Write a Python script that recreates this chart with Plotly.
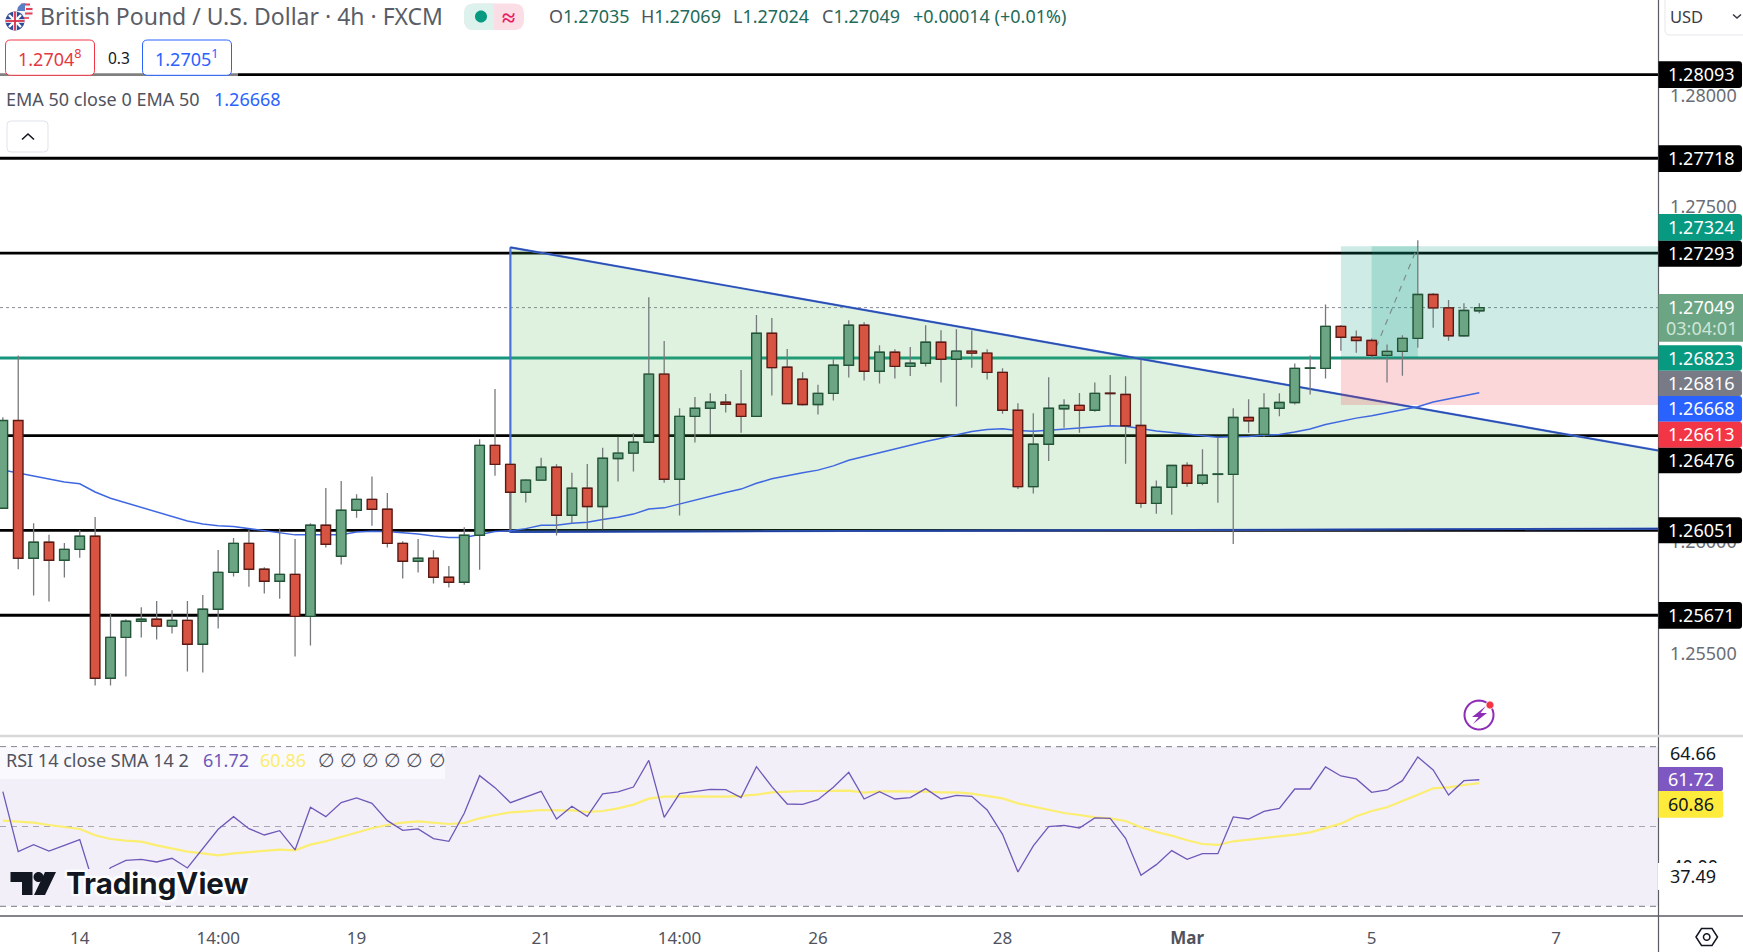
import math
import plotly.graph_objects as go

W, H = 1743, 952
FONT = "Noto Sans"

# ---------- data ----------
opens = [1.26150,1.26543,1.25926,1.25998,1.25917,1.25966,1.26025,1.25389,1.25572,1.25644,
1.25653,1.25622,1.25648,1.25541,1.25698,1.25863,1.25993,1.25877,1.25823,1.25854,
1.25666,1.26074,1.25935,1.26141,1.26190,1.26146,1.25993,1.25913,1.25926,1.25841,
1.25819,1.26029,1.26432,1.26347,1.26222,1.26276,1.26334,1.26119,1.26240,1.26158,
1.26373,1.26397,1.26446,1.26751,1.26280,1.26562,1.26598,1.26625,1.26616,1.26562,
1.26934,1.26782,1.26728,1.26615,1.26665,1.26791,1.26970,1.26764,1.26849,1.26786,
1.26800,1.26894,1.26818,1.26854,1.26845,1.26759,1.26589,1.26247,1.26437,1.26596,
1.26611,1.26589,1.26665,1.26660,1.26521,1.26172,1.26244,1.26342,1.26262,1.26302,
1.26302,1.26557,1.26481,1.26598,1.26624,1.26777,1.26777,1.26965,1.26916,1.26902,
1.26835,1.26853,1.26911,1.27108,1.27048,1.26923,1.27035]
highs = [1.26558,1.26835,1.26083,1.26031,1.25995,1.26053,1.26111,1.25680,1.25653,1.25707,
1.25735,1.25693,1.25735,1.25762,1.25963,1.26017,1.26053,1.25886,1.26060,1.26013,
1.26083,1.26241,1.26272,1.26213,1.26293,1.26219,1.26002,1.26013,1.25962,1.25892,
1.26065,1.26459,1.26684,1.26347,1.26280,1.26376,1.26347,1.26309,1.26349,1.26421,
1.26471,1.26486,1.27095,1.26900,1.26598,1.26649,1.26665,1.26662,1.26770,1.27016,
1.27003,1.26864,1.26760,1.26703,1.26818,1.26992,1.26983,1.26880,1.26862,1.26873,
1.26970,1.26948,1.26952,1.26946,1.26862,1.26777,1.26621,1.26576,1.26737,1.26639,
1.26666,1.26714,1.26747,1.26742,1.26814,1.26275,1.26342,1.26356,1.26415,1.26471,
1.26598,1.26639,1.26665,1.26665,1.26799,1.26835,1.27063,1.26971,1.26947,1.26911,
1.26884,1.26925,1.27351,1.27114,1.27083,1.27068,1.27069]
lows = [1.26150,1.25877,1.25759,1.25732,1.25840,1.25929,1.25356,1.25356,1.25396,1.25571,
1.25562,1.25589,1.25419,1.25414,1.25611,1.25844,1.25799,1.25768,1.25745,1.25486,
1.25535,1.25974,1.25898,1.26108,1.26072,1.25974,1.25835,1.25862,1.25813,1.25795,
1.25808,1.25875,1.26296,1.26053,1.26176,1.26276,1.26028,1.26083,1.26056,1.26056,
1.26270,1.26315,1.26446,1.26265,1.26118,1.26445,1.26483,1.26579,1.26489,1.26562,
1.26655,1.26619,1.26609,1.26570,1.26633,1.26736,1.26722,1.26709,1.26731,1.26743,
1.26785,1.26713,1.26606,1.26780,1.26727,1.26574,1.26237,1.26216,1.26362,1.26511,
1.26489,1.26583,1.26523,1.26350,1.26153,1.26126,1.26121,1.26247,1.26253,1.26175,
1.25990,1.26489,1.26471,1.26562,1.26615,1.26660,1.26732,1.26856,1.26847,1.26821,
1.26713,1.26744,1.26869,1.26959,1.26901,1.26919,1.27024]
closes = [1.26543,1.25926,1.25998,1.25917,1.25966,1.26025,1.25389,1.25572,1.25644,1.25653,
1.25622,1.25648,1.25541,1.25698,1.25863,1.25993,1.25877,1.25823,1.25854,1.25666,
1.26074,1.25989,1.26141,1.26190,1.26146,1.25993,1.25913,1.25926,1.25841,1.25819,
1.26029,1.26432,1.26347,1.26222,1.26276,1.26334,1.26119,1.26240,1.26158,1.26374,
1.26397,1.26446,1.26751,1.26280,1.26562,1.26598,1.26625,1.26616,1.26562,1.26934,
1.26780,1.26619,1.26615,1.26665,1.26791,1.26970,1.26764,1.26849,1.26786,1.26800,
1.26894,1.26818,1.26854,1.26845,1.26759,1.26589,1.26247,1.26437,1.26598,1.26611,
1.26589,1.26665,1.26664,1.26520,1.26172,1.26244,1.26342,1.26262,1.26298,1.26303,
1.26557,1.26542,1.26598,1.26624,1.26777,1.26778,1.26965,1.26916,1.26902,1.26835,
1.26853,1.26911,1.27108,1.27048,1.26923,1.27036,1.27049]
ema50 = [1.26322,1.26307,1.26295,1.26281,1.26268,1.26260,1.26223,1.26195,1.26174,1.26156,
1.26134,1.26114,1.26093,1.26080,1.26072,1.26068,1.26059,1.26050,1.26042,1.26031,
1.26031,1.26031,1.26032,1.26044,1.26047,1.26046,1.26041,1.26035,1.26026,1.26019,
1.26019,1.26031,1.26046,1.26050,1.26059,1.26074,1.26074,1.26083,1.26088,1.26100,
1.26110,1.26124,1.26147,1.26152,1.26170,1.26188,1.26206,1.26221,1.26236,1.26262,
1.26282,1.26297,1.26309,1.26321,1.26340,1.26365,1.26382,1.26400,1.26416,1.26433,
1.26449,1.26464,1.26479,1.26494,1.26503,1.26506,1.26498,1.26495,1.26500,1.26505,
1.26511,1.26515,1.26520,1.26518,1.26508,1.26496,1.26490,1.26483,1.26474,1.26468,
1.26471,1.26472,1.26477,1.26481,1.26492,1.26505,1.26525,1.26541,1.26554,1.26565,
1.26578,1.26590,1.26605,1.26626,1.26639,1.26654,1.26668]
rsi = [58.73,43.70,45.45,43.86,45.28,46.70,34.26,39.69,41.53,41.78,
41.11,42.03,39.60,44.37,49.29,52.47,49.46,47.87,48.96,44.12,
54.81,52.47,55.98,57.15,55.81,51.47,49.04,49.38,46.96,46.29,
53.30,62.74,59.74,55.98,57.40,58.82,51.88,55.06,52.55,58.15,
58.65,59.90,66.59,52.30,58.23,58.82,59.32,59.24,57.23,65.00,
59.99,55.64,55.56,56.73,59.82,63.58,56.90,58.74,56.90,57.23,
59.49,56.90,57.82,57.57,54.14,48.04,38.60,45.12,49.96,50.30,
49.63,52.14,52.05,47.04,37.77,40.44,43.95,41.78,43.20,43.20,
52.39,51.88,53.81,54.56,59.40,59.40,64.92,62.66,61.91,58.57,
59.15,61.49,67.42,64.17,57.90,61.49,61.72]
rsi_sma = [51.47,51.22,50.97,50.38,49.88,49.38,47.79,46.87,46.45,46.20,
45.28,44.45,43.70,43.28,42.78,43.28,43.61,43.95,44.20,44.03,
45.45,46.29,47.37,48.63,49.55,50.38,50.97,51.30,51.05,50.63,
50.88,52.05,52.89,53.56,53.81,54.14,54.06,54.06,53.64,53.89,
54.56,55.48,56.98,57.48,57.57,57.48,57.40,57.48,57.65,57.98,
58.57,58.82,58.90,58.90,58.99,58.99,58.48,58.82,58.82,58.82,
58.74,58.57,58.57,58.23,57.73,57.06,55.81,54.98,54.22,53.39,
52.89,52.30,52.05,51.38,49.80,48.63,47.71,46.54,45.62,45.37,
46.29,46.71,47.04,47.37,47.96,48.54,49.55,50.71,52.55,53.89,
54.81,56.31,57.98,59.57,59.82,60.40,60.86]
black_levels = [1.28093,1.27718,1.27293,1.26476,1.26051,1.25671]
green_level = 1.26823
last_price = 1.27049
entry = 1.26823
target = 1.27324
stop = 1.26613
wedge_x = [33, 108, 108, 33]
wedge_y = [1.27319, 1.26404, 1.26059, 1.26044]
box_x = [87, 108, 108, 87]
hit_x = [89, 92, 92, 89]
rsi_bands = [70, 50, 30]
price_ticks = [1.28, 1.275, 1.26, 1.255]
price_tick_text = ["1.28000", "1.27500", "1.26000", "1.25500"]
time_ticks = [5, 14, 23, 35, 44, 53, 65, 77, 89, 101]
time_tick_text = ["14", "14:00", "19", "21", "14:00", "26", "28", "<b>Mar</b>", "5", "7"]
x_idx = list(range(len(closes)))

# ---------- page geometry ----------
PX_R = 1658.5
PX_MAIN = 736
PX_RSI = 916
X_RANGE = [-0.185, 107.65]
Y_RANGE = [1.25130, 1.28427]
R_RANGE = [27.57, 72.68]

def fx(x): return x / W
def fy(y): return 1 - y / H

def rr(x0, y0, x1, y1, r=3, rl=None):
    rl = r if rl is None else rl
    return (f"M{fx(x0+rl)},{fy(y0)} L{fx(x1-r)},{fy(y0)} Q{fx(x1)},{fy(y0)} {fx(x1)},{fy(y0+r)} "
            f"L{fx(x1)},{fy(y1-r)} Q{fx(x1)},{fy(y1)} {fx(x1-r)},{fy(y1)} L{fx(x0+rl)},{fy(y1)} "
            f"Q{fx(x0)},{fy(y1)} {fx(x0)},{fy(y1-rl)} L{fx(x0)},{fy(y0+rl)} Q{fx(x0)},{fy(y0)} {fx(x0+rl)},{fy(y0)} Z")

def poly(pts, close=True):
    s = "M" + " L".join(f"{fx(a)},{fy(b)}" for a, b in pts)
    return s + (" Z" if close else "")

def circ(cx, cy, r):
    return poly([(cx + r * math.cos(2 * math.pi * k / 40), cy + r * math.sin(2 * math.pi * k / 40)) for k in range(40)])

shapes, annos = [], []

def pshape(path, fill="rgba(0,0,0,0)", line=None, lw=0, layer="above"):
    shapes.append(dict(type="path", xref="paper", yref="paper", path=path, fillcolor=fill,
                       line=dict(color=line or "rgba(0,0,0,0)", width=lw), layer=layer))

def text(x, y, s, size=18, color="#50535E", anchor="left", weight=None, shadow=None, family=FONT):
    f = dict(size=size, color=color, family=family)
    if weight: f["weight"] = weight
    if shadow: f["shadow"] = shadow
    annos.append(dict(xref="paper", yref="paper", x=fx(x), y=fy(y), text=s, showarrow=False,
                      xanchor=anchor, yanchor="middle", font=f, borderpad=0, borderwidth=0))

# ---------- level lines (under the wedge fill) ----------
for lv in black_levels:
    shapes.append(dict(type="line", xref="x", yref="y", x0=X_RANGE[0], x1=X_RANGE[1], y0=lv, y1=lv,
                       line=dict(color="#000000", width=2.8), layer="below"))
shapes.append(dict(type="line", xref="x", yref="y", x0=X_RANGE[0], x1=X_RANGE[1], y0=green_level, y1=green_level,
                   line=dict(color="#17967F", width=3), layer="below"))
shapes.append(dict(type="line", xref="x", yref="y", x0=X_RANGE[0], x1=X_RANGE[1], y0=last_price, y1=last_price,
                   line=dict(color="#8A8D96", width=1, dash="dot"), layer="below"))
# RSI band
shapes.append(dict(type="rect", xref="x2", yref="y2", x0=X_RANGE[0], x1=X_RANGE[1], y0=rsi_bands[2], y1=rsi_bands[0],
                   fillcolor="#F2EFF9", line=dict(width=0), layer="below"))
for b, c in zip(rsi_bands, ["#787B86", "#A9A6B4", "#787B86"]):
    shapes.append(dict(type="line", xref="x2", yref="y2", x0=X_RANGE[0], x1=X_RANGE[1], y0=b, y1=b,
                       line=dict(color=c, width=1, dash="6px,5px"), layer="below"))

# ---------- traces ----------
fig = go.Figure()
BLUE = "#4A72DA"
fig.add_trace(go.Scatter(x=wedge_x + wedge_x[:1], y=wedge_y + wedge_y[:1], mode="lines", fill="toself",
                         fillcolor="rgba(76,175,80,0.18)", line=dict(color=BLUE, width=2.2),
                         hoverinfo="skip", showlegend=False))
fig.add_trace(go.Scatter(x=wedge_x[:2], y=wedge_y[:2], mode="lines", line=dict(color="#2A4CA8", width=1.2),
                         hoverinfo="skip", showlegend=False))
fig.add_trace(go.Scatter(x=wedge_x[2:], y=wedge_y[2:], mode="lines", line=dict(color="#1F3F9A", width=1.4),
                         hoverinfo="skip", showlegend=False))
fig.add_trace(go.Scatter(x=box_x + box_x[:1], y=[target, target, entry, entry, target], mode="lines", fill="toself",
                         fillcolor="rgba(8,153,129,0.20)", line=dict(width=0), hoverinfo="skip", showlegend=False))
fig.add_trace(go.Scatter(x=box_x + box_x[:1], y=[entry, entry, stop, stop, entry], mode="lines", fill="toself",
                         fillcolor="rgba(242,54,69,0.20)", line=dict(width=0), hoverinfo="skip", showlegend=False))
fig.add_trace(go.Scatter(x=hit_x + hit_x[:1], y=[target, target, entry, entry, target], mode="lines", fill="toself",
                         fillcolor="rgba(8,153,129,0.20)", line=dict(width=0), hoverinfo="skip", showlegend=False))
fig.add_trace(go.Scatter(x=hit_x[:1] + hit_x[1:2], y=[entry, target], mode="lines",
                         line=dict(color="#7E8C8A", width=1.2, dash="6px,6px"), hoverinfo="skip", showlegend=False))
fig.add_trace(go.Scatter(x=x_idx, y=ema50, mode="lines", line=dict(color="#3F68E0", width=1.5),
                         hoverinfo="skip", showlegend=False))
# wicks come from the candlestick on one overlaying axis, wide bodies from bars on a later one
fig.add_trace(go.Candlestick(x=x_idx, open=opens, high=highs, low=lows, close=closes, yaxis="y3",
                             increasing=dict(line=dict(color="#777A7C", width=1.3), fillcolor="#6BA583"),
                             decreasing=dict(line=dict(color="#777A7C", width=1.3), fillcolor="#D75442"),
                             whiskerwidth=0, hoverinfo="skip", showlegend=False))
body_lo = [min(a, b) for a, b in zip(opens, closes)]
body_h = [max(abs(a - b), 0.00002) for a, b in zip(opens, closes)]
up = [b >= a for a, b in zip(opens, closes)]
fig.add_trace(go.Bar(x=x_idx, y=body_h, base=body_lo, width=0.62, yaxis="y4",
                     marker=dict(color=["#6BA583" if u else "#D75442" for u in up],
                                 line=dict(color=["#225437" if u else "#5B1A13" for u in up], width=1.4)),
                     hoverinfo="skip", showlegend=False))
fig.add_trace(go.Scatter(x=x_idx, y=rsi_sma, xaxis="x2", yaxis="y2", mode="lines",
                         line=dict(color="#FBEE70", width=2.2), hoverinfo="skip", showlegend=False))
fig.add_trace(go.Scatter(x=x_idx, y=rsi, xaxis="x2", yaxis="y2", mode="lines",
                         line=dict(color="#6E58B8", width=1.3), hoverinfo="skip", showlegend=False))

# ---------- chrome ----------
pshape(poly([(PX_R, 0), (PX_R, H)], False), line="#5A5D63", lw=1.2)
pshape(poly([(0, PX_MAIN), (W, PX_MAIN)], False), line="#D8D8DA", lw=2.4)
pshape(poly([(0, PX_RSI), (W, PX_RSI)], False), line="#5A5D63", lw=1.4)

LABELS = [(61.3, 88, "#000000", "1.28093"), (145.3, 172, "#000000", "1.27718"),
          (214, 240.7, "#089981", "1.27324"), (240.7, 266.7, "#000000", "1.27293"),
          (345.3, 370.7, "#089981", "1.26823"), (370.7, 396, "#787B86", "1.26816"),
          (396, 421.7, "#2962FF", "1.26668"), (421.7, 447.7, "#F23645", "1.26613"),
          (447.7, 473.3, "#000000", "1.26476"), (517.3, 543.3, "#000000", "1.26051"),
          (602, 628.7, "#000000", "1.25671")]
for t, b, c, s in LABELS:
    pshape(rr(PX_R, t, 1742, b, 3, 0.01), fill=c)
    text(1701.5, (t + b) / 2 - 0.5, s, 18, "#FFFFFF", "center")
pshape(rr(PX_R, 294, W, 341.7, 0.01, 0.01), fill="#6BA583")
text(1701.5, 307, "1.27049", 18, "#FFFFFF", "center")
text(1701.5, 328, "03:04:01", 18, "#CFE6D7", "center")
# RSI labels
pshape(rr(PX_R, 767, 1723, 791, 2, 0.01), fill="#7E57C2")
text(1691, 779, "61.72", 18, "#FFFFFF", "center")
pshape(rr(PX_R, 791, 1723, 817.7, 2, 0.01), fill="#FFEB3B")
text(1691, 804, "60.86", 18, "#131722", "center")
text(1670, 752.5, "64.66", 18, "#131722")
pshape(poly([(PX_R - 0.5, 863), (1725, 863), (1725, 890), (PX_R - 0.5, 890)]), fill="#FFFFFF")
text(1670, 875.5, "37.49", 18, "#131722")

# currency selector
pshape(rr(1665, -5, 1760, 35, 5), fill="#FFFFFF", line="#E6E7EB", lw=1)
text(1670, 16, "USD", 16.5, "#3A3D46")
pshape(poly([(1733, 14.5), (1737, 18), (1741, 14.5)], False), line="#3A3D46", lw=1.6)

# header flags
pshape(circ(25, 11, 8), fill="#F3F4F8")
pshape(poly([(21, 4.5), (30, 4.5)], False), line="#E2415A", lw=2)
pshape(poly([(26, 9), (32.5, 9)], False), line="#E2415A", lw=2)
pshape(poly([(25, 13.5), (32.5, 13.5)], False), line="#E2415A", lw=2)
pshape(poly([(21, 18), (29, 18)], False), line="#E2415A", lw=1.6)
pshape(poly([(25, 3), (25, 11), (17, 11), (18, 7), (21, 4)]), fill="#5B7DC6")
pshape(circ(15, 21, 9.5), fill="#2F4A97")
pshape(poly([(9, 15), (21, 27)], False), line="#FFFFFF", lw=2.4)
pshape(poly([(21, 15), (9, 27)], False), line="#FFFFFF", lw=2.4)
pshape(poly([(15, 11.5), (15, 30.5)], False), line="#FFFFFF", lw=3.6)
pshape(poly([(5.5, 21), (24.5, 21)], False), line="#FFFFFF", lw=3.6)
pshape(poly([(15, 11.5), (15, 30.5)], False), line="#D5304A", lw=1.8)
pshape(poly([(5.5, 21), (24.5, 21)], False), line="#D5304A", lw=1.8)
text(39.5, 16, "British Pound / U.S. Dollar · 4h · FXCM", 23, "#5A5D66")

# status pills
pshape(rr(464, 3.5, 524, 30, 10), fill="#FBDDE6")
pshape(rr(464, 3.5, 494, 30, 0.01, 10), fill="#DDF2EC")
pshape(circ(481, 16.5, 6), fill="#089981")
text(508, 16, "≈", 24, "#E91E63", "center", weight=700)

# OHLC strip
V = "#1E6B5A"
def v(s): return f"<span style='color:{V}'>{s}</span>"
for x0, s in [(548.6, "O" + v("1.27035")), (641, "H" + v("1.27069")), (733, "L" + v("1.27024")),
              (822, "C" + v("1.27049")), (913.5, v("+0.00014 (+0.01%)"))]:
    text(x0, 16, s, 18, "#50535E")

# bid / ask
pshape(poly([(0, 72.5), (238, 72.5), (238, 77), (0, 77)]), fill="rgba(255,255,255,0.5)")
pshape(rr(5.5, 40, 94.5, 75.3, 5), fill="#FFFFFF", line="#F23645", lw=1)
text(50, 58, "1.2704<sup>8</sup>", 18, "#E5383F", "center")
text(118.5, 58, "0.3", 15.5, "#131722", "center")
pshape(rr(142.5, 40, 231.5, 75.3, 5), fill="#FFFFFF", line="#2962FF", lw=1)
text(187, 58, "1.2705<sup>1</sup>", 18, "#2962FF", "center")

# EMA legend
text(6, 99.5, "EMA 50 close 0 EMA 50", 18, "#50535E")
text(214, 99.5, "1.26668", 18, "#2962FF")
pshape(rr(7, 121, 48, 152, 4), fill="#FFFFFF", line="#E0E3EB", lw=1)
pshape(poly([(22, 139.5), (28, 134), (34, 139.5)], False), line="#131722", lw=1.6)

# RSI legend
pshape(poly([(0, 747), (445, 747), (445, 779), (0, 779)]), fill="rgba(255,255,255,0.6)")
text(6, 759.5, "RSI 14 close SMA 14 2", 18, "#50535E")
text(203, 759.5, "61.72", 18, "#6E58B8")
text(260, 759.5, "60.86", 18, "#FBEE70")
for i in range(6):
    text(317.5 + i * 22.2, 759.5, "∅", 19, "#50535E")

# TradingView mark
pshape(poly([(62, 869), (252, 869), (252, 902), (62, 902)]), fill="#F2EFF9")
pshape(poly([(10.5, 872), (32.5, 872), (32.5, 895), (22, 895), (22, 882), (10.5, 882)]), fill="#131722")
pshape(circ(38.5, 877, 5), fill="#131722")
pshape(poly([(45, 872), (56, 872), (45, 895), (34, 895)]), fill="#131722")
text(66, 883, "TradingView", 29.5, "#131722", weight=700, family="Inter",
     shadow="2px 2px 2px #fff, -2px -2px 2px #fff, 2px -2px 2px #fff, -2px 2px 2px #fff")

# lightning button
pshape(circ(1479, 715, 14.5), line="#8E2DB5", lw=2)
pshape(poly([(1486, 706), (1472, 717), (1478.5, 717), (1473, 724), (1487, 713), (1480.5, 713)]), fill="#8E2DB5")
pshape(circ(1490, 705, 4), fill="#F23645", line="#FFFFFF", lw=1)

# settings hexagon
pshape(poly([(1696, 937), (1701.5, 928.5), (1712, 928.5), (1717.5, 937), (1712, 945.5), (1701.5, 945.5)]),
       line="#131722", lw=1.5)
pshape(circ(1706.7, 937, 3.2), line="#131722", lw=1.5)

fig.update_layout(
    width=W, height=H, margin=dict(l=0, r=0, t=0, b=0), paper_bgcolor="#FFFFFF", plot_bgcolor="#FFFFFF",
    showlegend=False, hovermode=False, dragmode=False, shapes=shapes, annotations=annos,
    font=dict(family=FONT, color="#50535E"),
    xaxis=dict(domain=[0, PX_R / W], range=X_RANGE, anchor="y", showticklabels=False, showgrid=False,
               zeroline=False, rangeslider=dict(visible=False), fixedrange=True),
    xaxis2=dict(domain=[0, PX_R / W], range=X_RANGE, anchor="y2", showgrid=False, zeroline=False,
                tickmode="array", tickvals=time_ticks, ticktext=time_tick_text, ticks="outside", ticklen=7,
                tickcolor="rgba(0,0,0,0)", tickfont=dict(size=17, color="#50535E", family=FONT), fixedrange=True),
    yaxis=dict(domain=[fy(PX_MAIN), 1], range=Y_RANGE, side="right", anchor="x", showgrid=False, zeroline=False,
               tickmode="array", tickvals=price_ticks, ticktext=price_tick_text, ticks="outside", ticklen=7,
               tickcolor="rgba(0,0,0,0)", tickfont=dict(size=18, color="#6A6D75", family=FONT), fixedrange=True),
    yaxis2=dict(domain=[fy(PX_RSI), fy(PX_MAIN)], range=R_RANGE, side="right", anchor="x2", showgrid=False,
                zeroline=False, tickmode="array", tickvals=[40], ticktext=["40.00"], ticks="outside", ticklen=9,
                tickcolor="rgba(0,0,0,0)", tickfont=dict(size=18, color="#131722", family=FONT), fixedrange=True),
    yaxis3=dict(overlaying="y", range=Y_RANGE, side="right", anchor="x", visible=False, fixedrange=True),
    yaxis4=dict(overlaying="y", range=Y_RANGE, side="right", anchor="x", visible=False, fixedrange=True),
)

fig.write_html("out.html", config=dict(displayModeBar=False, responsive=False),
               post_script="document.body.style.margin='0';document.body.style.overflow='hidden';")
